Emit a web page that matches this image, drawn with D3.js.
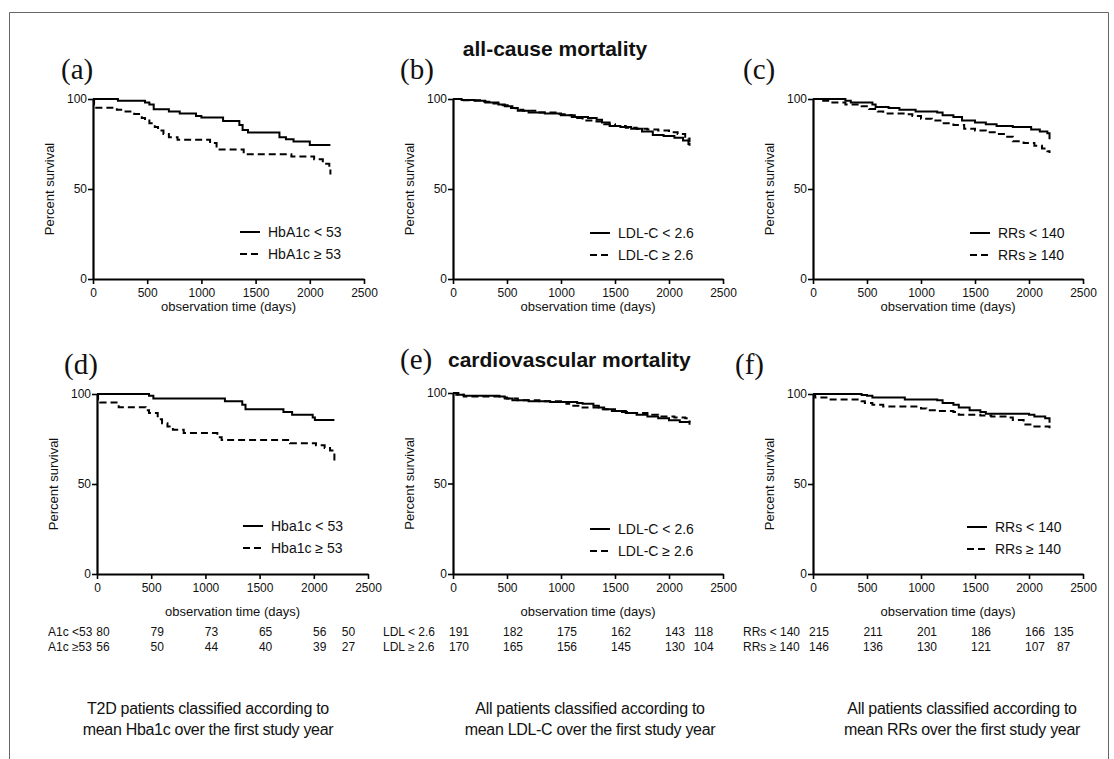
<!DOCTYPE html>
<html><head><meta charset="utf-8">
<script src="https://cdn.jsdelivr.net/npm/d3@7"></script>
<style>
body{margin:0;background:#fff;}
svg{display:block;font-family:"Liberation Sans",Arial,Helvetica,sans-serif;}
</style></head>
<body><svg id="c" width="1114" height="759"></svg>
<script>
// ---------- data ----------
const xTicks = [0, 500, 1000, 1500, 2000, 2500];
const yTicks = [0, 50, 100];
const panelLetters = ["(a)", "(b)", "(c)", "(d)", "(e)", "(f)"];
const sectionTitles = ["all-cause mortality", "cardiovascular mortality"];

const legendA = ["HbA1c < 53", "HbA1c \u2265 53"];
const legendB = ["LDL-C < 2.6", "LDL-C \u2265 2.6"];
const legendC = ["RRs < 140", "RRs \u2265 140"];
const legendD = ["Hba1c < 53", "Hba1c \u2265 53"];

// [time (days), percent survival]
const aLow  = [[0,100],[230,99],[480,98],[520,97],[560,94.3],[700,93],[800,92],[950,90.6],[1000,89.7],[1200,87.8],[1350,85.6],[1380,82.8],[1430,81.4],[1720,78.8],[1780,77.7],[1850,76.4],[2000,74.5],[2190,74.5]];
const aHigh = [[0,100],[10,97],[30,95.2],[220,94],[300,93],[380,91.7],[450,89.5],[480,88],[520,86.5],[570,84.5],[600,82.5],[650,80.5],[700,78.8],[780,77.3],[1080,75.5],[1140,72],[1390,69.3],[1830,68],[2040,66.5],[2120,64],[2180,62],[2190,58]];
const bLow  = [[0,100],[80,99.5],[200,99],[300,98],[420,97],[480,96],[550,95],[600,93.5],[700,92.5],[850,92],[1000,91],[1100,90],[1250,89.5],[1330,88.5],[1380,87],[1450,85],[1550,84.5],[1650,83.5],[1750,82],[1850,80],[1950,79.5],[2050,78.5],[2130,77],[2180,75],[2190,74]];
const bHigh = [[0,100],[100,99.3],[250,98.5],[350,97.5],[450,96.5],[520,95],[580,94],[650,93.5],[800,92.5],[950,91.5],[1050,91],[1150,89.5],[1200,88],[1300,87.5],[1400,86],[1500,85],[1600,84],[1700,83.5],[1800,83],[1900,82.5],[2000,81.5],[2080,80.5],[2150,79],[2180,78],[2190,76]];
const cLow  = [[0,100],[300,99],[350,98],[550,97],[580,95.5],[700,95],[800,94],[950,93],[1150,92.5],[1200,91],[1300,90],[1380,88],[1500,87],[1600,86],[1700,85],[1850,84.5],[2020,83],[2100,82],[2170,81],[2190,77.7]];
const cHigh = [[0,100],[60,99],[150,98],[300,97],[450,96],[520,94.5],[600,93],[650,92],[850,91.5],[920,90.5],[1000,89],[1100,88],[1200,86.5],[1300,85.5],[1400,83.5],[1500,82.5],[1600,81.5],[1700,80.5],[1780,79],[1850,76.5],[1950,75.5],[2050,74],[2120,72.5],[2170,71],[2190,70]];
const dLow  = [[0,100],[480,99],[520,97.5],[1180,96],[1340,94],[1370,91.5],[1720,90],[1800,88.5],[1990,87],[2010,85.5],[2190,85.5]];
const dHigh = [[0,100],[10,97],[30,95.3],[180,94],[200,92.7],[450,91],[480,89.4],[560,86],[600,83.8],[650,82],[700,80.1],[800,78.3],[1110,76],[1150,74.5],[1780,72.7],[2020,71.5],[2100,70],[2150,68.6],[2190,61.5]];
const eLow  = [[0,100],[50,99],[100,98.5],[430,98],[480,97],[550,96],[700,95.5],[900,95],[1150,94.5],[1200,94],[1300,93],[1350,92],[1400,91],[1500,90],[1600,89],[1700,88],[1800,87],[1900,86],[2000,85],[2100,84],[2190,82.5]];
const eHigh = [[0,100],[30,99],[100,98],[450,97.5],[500,97],[600,96],[800,95.5],[1000,95],[1050,94],[1100,93],[1200,92],[1350,91],[1450,90],[1550,89.5],[1650,89],[1800,88],[1900,87],[2050,86.5],[2150,86],[2190,84]];
const fLow  = [[0,100],[450,99.5],[500,99],[550,98],[850,97],[1150,96.5],[1200,95],[1300,94],[1350,92.5],[1450,91],[1550,90],[1600,89],[2000,88.5],[2050,87.5],[2150,86.5],[2190,84]];
const fHigh = [[0,100],[20,98],[150,97],[450,96],[480,95],[550,94],[650,93],[1000,92],[1050,91],[1150,90.5],[1300,90],[1350,88.5],[1550,88],[1650,87.5],[1800,87],[1850,85.5],[1950,83],[2050,82],[2190,81]];

// numbers at risk
const riskTimes = [0, 500, 1000, 1500, 2000, 2265];
const riskLabelsA = ["A1c <53", "A1c \u226553"];
const riskA1 = [80, 79, 73, 65, 56, 50];
const riskA2 = [56, 50, 44, 40, 39, 27];
const riskLabelsB = ["LDL < 2.6", "LDL \u2265 2.6"];
const riskB1 = [191, 182, 175, 162, 143, 118];
const riskB2 = [170, 165, 156, 145, 130, 104];
const riskLabelsC = ["RRs < 140", "RRs \u2265 140"];
const riskC1 = [215, 211, 201, 186, 166, 135];
const riskC2 = [146, 136, 130, 121, 107, 87];

const captions = [
  ["T2D patients classified according to", "mean Hba1c over the first study year"],
  ["All patients classified according to", "mean LDL-C over the first study year"],
  ["All patients classified according to", "mean RRs over the first study year"]
];

// ---------- layout ----------
const svg = d3.select("#c");
svg.append("path").attr("d","M9.5,759 V12.5 H1108.5 V759").attr("fill","none").attr("stroke","#666").attr("stroke-width",1);

const panels = [
  {x0:93, x1:364, yT:99, yB:279, low:aLow, high:aHigh, leg:legendA, lx:240, ly:232, titleY:311},
  {x0:453,x1:723, yT:99, yB:279, low:bLow, high:bHigh, leg:legendB, lx:590, ly:233, titleY:311},
  {x0:813,x1:1083,yT:99, yB:279, low:cLow, high:cHigh, leg:legendC, lx:970, ly:233, titleY:311},
  {x0:97, x1:368, yT:394,yB:574, low:dLow, high:dHigh, leg:legendD, lx:243, ly:526, titleY:616},
  {x0:453,x1:723, yT:393,yB:574, low:eLow, high:eHigh, leg:legendB, lx:590, ly:529, titleY:616},
  {x0:813,x1:1083,yT:394,yB:574, low:fLow, high:fHigh, leg:legendC, lx:967, ly:527, titleY:616}
];
const letterPos = [[61,79],[400,79],[743,79],[64,374],[400,369],[735,374]];

panels.forEach((p, i) => {
  const x = d3.scaleLinear().domain([0,2500]).range([p.x0, p.x1]);
  const y = d3.scaleLinear().domain([0,100]).range([p.yB, p.yT]);
  p.x = x;
  const g = svg.append("g");
  const xa = g.append("g").attr("transform",`translate(0,${p.yB})`)
    .call(d3.axisBottom(x).tickValues(xTicks).tickFormat(d3.format("d")).tickSize(5).tickSizeOuter(0).tickPadding(4));
  const ya = g.append("g").attr("transform",`translate(${p.x0},0)`)
    .call(d3.axisLeft(y).tickValues(yTicks).tickFormat(d3.format("d")).tickSize(5).tickSizeOuter(0).tickPadding(1));
  [xa, ya].forEach(a => {
    a.select(".domain").attr("stroke","#000").attr("stroke-width",2.2);
    a.selectAll(".tick line").attr("stroke","#000").attr("stroke-width",1.6);
    a.selectAll(".tick text").attr("font-size",12).attr("fill","#111")
      .attr("font-family","'Liberation Sans',Arial,sans-serif");
  });
  g.append("text").attr("x",(p.x0+p.x1)/2).attr("y",p.titleY).attr("text-anchor","middle")
    .attr("font-size",13).attr("fill","#111").text("observation time (days)");
  g.append("text").attr("transform",`translate(${p.x0-39},${(p.yT+p.yB)/2}) rotate(-90)`)
    .attr("text-anchor","middle").attr("font-size",13).attr("fill","#111").text("Percent survival");
  const line = d3.line().x(d=>x(d[0])).y(d=>y(d[1])).curve(d3.curveStepAfter);
  g.append("path").datum(p.low).attr("d",line).attr("fill","none").attr("stroke","#000").attr("stroke-width",2);
  g.append("path").datum(p.high).attr("d",line).attr("fill","none").attr("stroke","#000").attr("stroke-width",2).attr("stroke-dasharray","7,4");
  p.leg.forEach((t, k) => {
    const ly = p.ly + k*22;
    g.append("line").attr("x1",p.lx).attr("x2",p.lx+20).attr("y1",ly).attr("y2",ly)
      .attr("stroke","#000").attr("stroke-width",2).attr("stroke-dasharray",k? "7,4":null);
    g.append("text").attr("x",p.lx+28).attr("y",ly+5).attr("font-size",14).attr("fill","#111").text(t);
  });
  svg.append("text").attr("x",letterPos[i][0]).attr("y",letterPos[i][1])
    .attr("font-family","'Liberation Serif','Times New Roman',serif").attr("font-size",29).attr("fill","#111")
    .text(panelLetters[i]);
});

svg.append("text").attr("x",555).attr("y",56).attr("text-anchor","middle").attr("font-weight","bold")
  .attr("font-size",21).attr("fill","#111").text(sectionTitles[0]);
svg.append("text").attr("x",448).attr("y",367).attr("font-weight","bold")
  .attr("font-size",21).attr("fill","#111").text(sectionTitles[1]);

const tables = [
  {p:panels[3], labels:riskLabelsA, rows:[riskA1, riskA2], lx:48},
  {p:panels[4], labels:riskLabelsB, rows:[riskB1, riskB2], lx:383},
  {p:panels[5], labels:riskLabelsC, rows:[riskC1, riskC2], lx:743}
];
tables.forEach(tb => {
  tb.rows.forEach((row, r) => {
    const yy = 636 + r*15;
    svg.append("text").attr("x",tb.lx).attr("y",yy).attr("font-size",12).attr("fill","#111").text(tb.labels[r]);
    row.forEach((v, c) => {
      svg.append("text").attr("x",tb.p.x(riskTimes[c])+6).attr("y",yy).attr("text-anchor","middle")
        .attr("font-size",12).attr("fill","#111").text(v);
    });
  });
});

const capX = [208, 590, 962];
captions.forEach((lines, i) => {
  lines.forEach((t, k) => {
    svg.append("text").attr("x",capX[i]).attr("y",714 + k*21).attr("text-anchor","middle")
      .attr("font-size",16).attr("letter-spacing","-0.3").attr("fill","#111").text(t);
  });
});
</script></body></html>
